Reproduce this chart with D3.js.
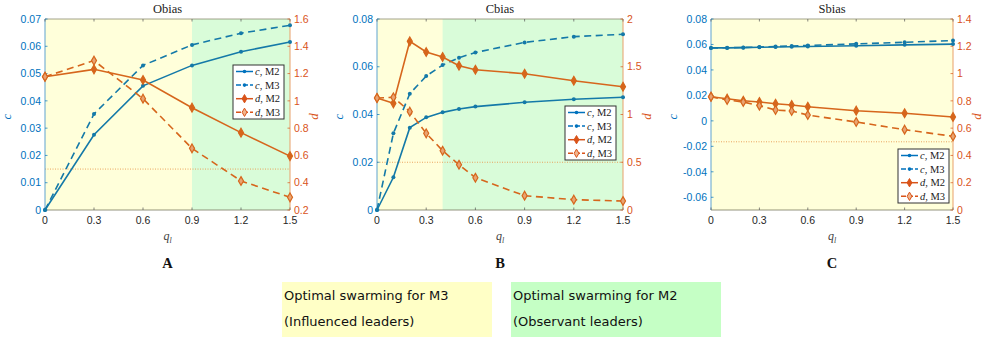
<!DOCTYPE html>
<html><head><meta charset="utf-8">
<script src="https://cdn.jsdelivr.net/npm/d3@7"></script>
<style>body{margin:0;background:#fff}svg{display:block}</style>
</head><body>
<svg id="chart" width="990" height="340"></svg>
<script>
// ---------- DATA ----------
const titles = ["Obias", "Cbias", "Sbias"];
const panelLetters = ["A", "B", "C"];
const seriesNames = ["c, M2", "c, M3", "d, M2", "d, M3"];

const qA = [0, 0.3, 0.6, 0.9, 1.2, 1.5];
const cM2_A = [0, 0.0276, 0.0455, 0.0530, 0.0580, 0.0616];
const cM3_A = [0, 0.0352, 0.0530, 0.0605, 0.0648, 0.0677];
const dM2_A = [1.177, 1.231, 1.153, 0.950, 0.767, 0.595];
const dM3_A = [1.177, 1.295, 1.016, 0.652, 0.413, 0.293];

const qB = [0, 0.1, 0.2, 0.3, 0.4, 0.5, 0.6, 0.9, 1.2, 1.5];
const cM2_B = [0, 0.0137, 0.0345, 0.0388, 0.0409, 0.0423, 0.0433, 0.0451, 0.0464, 0.0472];
const cM3_B = [0, 0.0321, 0.0487, 0.0561, 0.0607, 0.0638, 0.0660, 0.0702, 0.0726, 0.0736];
const dM2_B = [1.173, 1.117, 1.766, 1.654, 1.602, 1.511, 1.469, 1.427, 1.354, 1.291];
const dM3_B = [1.173, 1.180, 1.030, 0.803, 0.621, 0.474, 0.338, 0.150, 0.108, 0.094];

const qC = [0, 0.1, 0.2, 0.3, 0.4, 0.5, 0.6, 0.9, 1.2, 1.5];
const cM2_C = [0.0573, 0.0573, 0.0575, 0.0578, 0.0580, 0.0582, 0.0584, 0.0590, 0.0597, 0.0603];
const cM3_C = [0.0573, 0.0574, 0.0577, 0.0580, 0.0584, 0.0588, 0.0592, 0.0605, 0.0617, 0.0631];
const dM2_C = [0.830, 0.816, 0.801, 0.792, 0.779, 0.770, 0.757, 0.728, 0.709, 0.682];
const dM3_C = [0.830, 0.806, 0.792, 0.765, 0.733, 0.726, 0.696, 0.645, 0.589, 0.540];

const xTicks = [0, 0.3, 0.6, 0.9, 1.2, 1.5];
const cTicksA = [0, 0.01, 0.02, 0.03, 0.04, 0.05, 0.06, 0.07];
const dTicksA = [0.2, 0.4, 0.6, 0.8, 1, 1.2, 1.4, 1.6];
const cTicksB = [0, 0.02, 0.04, 0.06, 0.08];
const dTicksB = [0, 0.5, 1, 1.5, 2];
const cTicksC = [-0.06, -0.04, -0.02, 0, 0.02, 0.04, 0.06, 0.08];
const dTicksC = [0, 0.2, 0.4, 0.6, 0.8, 1, 1.2, 1.4];

const cDomains = [[0, 0.07], [0, 0.08], [-0.07, 0.08]];
const dDomains = [[0.2, 1.6], [0, 2], [0, 1.4]];
const greenStart = [0.9, 0.4, null];   // M2-optimal region starts here
const thresholdD = [0.5, 0.5, 0.5];    // dotted reference line (right axis)

const legendTexts = [["Optimal swarming for M3", "(Influenced leaders)"],
                     ["Optimal swarming for M2", "(Observant leaders)"]];

// ---------- LAYOUT ----------
const panels = [
  {x0: 45, x1: 290, q: qA, c: [cM2_A, cM3_A], d: [dM2_A, dM3_A], cT: cTicksA, dT: dTicksA, leg: [233, 65]},
  {x0: 377, x1: 623, q: qB, c: [cM2_B, cM3_B], d: [dM2_B, dM3_B], cT: cTicksB, dT: dTicksB, leg: [565, 106]},
  {x0: 711, x1: 953, q: qC, c: [cM2_C, cM3_C], d: [dM2_C, dM3_C], cT: cTicksC, dT: dTicksC, leg: [898, 149]}
];
const yTop = 19, yBot = 210;
const blue = "#0072BD", orange = "#D95319";
const cLine = "#1479A8", dLine = "#D6661C";
const yellowBg = "#FFFFDA", greenBg = "#D9FCD9";
const fmt = v => String(+v.toFixed(3));

const svg = d3.select("#chart");

panels.forEach((p, i) => {
  const g = svg.append("g");
  const x = d3.scaleLinear().domain([0, 1.5]).range([p.x0, p.x1]);
  const yc = d3.scaleLinear().domain(cDomains[i]).range([yBot, yTop]);
  const yd = d3.scaleLinear().domain(dDomains[i]).range([yBot, yTop]);

  // backgrounds
  g.append("rect").attr("x", p.x0).attr("y", yTop).attr("width", p.x1 - p.x0).attr("height", yBot - yTop).attr("fill", yellowBg);
  if (greenStart[i] !== null) {
    g.append("rect").attr("x", x(greenStart[i])).attr("y", yTop)
      .attr("width", x(1.5) - x(greenStart[i])).attr("height", yBot - yTop).attr("fill", greenBg);
  }
  // dotted threshold
  g.append("line").attr("x1", p.x0).attr("x2", p.x1).attr("y1", yd(thresholdD[i])).attr("y2", yd(thresholdD[i]))
    .attr("stroke", "#E89A50").attr("stroke-width", 0.9).attr("stroke-dasharray", "1,1.5");

  // frame
  g.append("line").attr("x1", p.x0).attr("x2", p.x1).attr("y1", yTop).attr("y2", yTop).attr("stroke", "#8a8a70").attr("stroke-width", 0.8);
  g.append("line").attr("x1", p.x0).attr("x2", p.x1).attr("y1", yBot).attr("y2", yBot).attr("stroke", "#7a7a60").attr("stroke-width", 0.8);
  g.append("line").attr("x1", p.x0).attr("x2", p.x0).attr("y1", yTop).attr("y2", yBot).attr("stroke", "#5FA3CF").attr("stroke-width", 1);
  g.append("line").attr("x1", p.x1).attr("x2", p.x1).attr("y1", yTop).attr("y2", yBot).attr("stroke", "#E8A06A").attr("stroke-width", 1);

  // x ticks
  xTicks.forEach(t => {
    g.append("line").attr("x1", x(t)).attr("x2", x(t)).attr("y1", yBot).attr("y2", yBot - 2.5).attr("stroke", "#555").attr("stroke-width", 0.7);
    g.append("line").attr("x1", x(t)).attr("x2", x(t)).attr("y1", yTop).attr("y2", yTop + 2.5).attr("stroke", "#555").attr("stroke-width", 0.7);
    g.append("text").attr("x", x(t)).attr("y", 224).attr("text-anchor", "middle")
      .attr("font-family", "Liberation Sans, Arial, sans-serif").attr("font-size", 10.5).attr("fill", "#262626").text(fmt(t));
  });
  // left ticks
  p.cT.forEach(t => {
    g.append("line").attr("x1", p.x0).attr("x2", p.x0 + 2.5).attr("y1", yc(t)).attr("y2", yc(t)).attr("stroke", blue).attr("stroke-width", 0.7);
    g.append("text").attr("x", p.x0 - 4).attr("y", yc(t) + 3.7).attr("text-anchor", "end")
      .attr("font-family", "Liberation Sans, Arial, sans-serif").attr("font-size", 10.5).attr("fill", blue).text(fmt(t));
  });
  // right ticks
  p.dT.forEach(t => {
    g.append("line").attr("x1", p.x1 - 2.5).attr("x2", p.x1).attr("y1", yd(t)).attr("y2", yd(t)).attr("stroke", orange).attr("stroke-width", 0.7);
    g.append("text").attr("x", p.x1 + 4).attr("y", yd(t) + 3.7).attr("text-anchor", "start")
      .attr("font-family", "Liberation Sans, Arial, sans-serif").attr("font-size", 10.5).attr("fill", orange).text(fmt(t));
  });

  // title
  g.append("text").attr("x", (p.x0 + p.x1) / 2).attr("y", 13).attr("text-anchor", "middle")
    .attr("font-family", "Liberation Serif, serif").attr("font-size", 12.5).attr("fill", "#222").text(titles[i]);
  // axis labels
  g.append("text").attr("transform", `translate(${p.x0 - 34},${(yTop + yBot) / 2 + 2}) rotate(-90)`).attr("text-anchor", "middle")
    .attr("font-family", "Liberation Serif, serif").attr("font-style", "italic").attr("font-size", 13).attr("fill", blue).text("c");
  g.append("text").attr("transform", `translate(${p.x1 + 28},${(yTop + yBot) / 2 + 2}) rotate(-90)`).attr("text-anchor", "middle")
    .attr("font-family", "Liberation Serif, serif").attr("font-style", "italic").attr("font-size", 13).attr("fill", orange).text("d");
  const xl = g.append("text").attr("x", (p.x0 + p.x1) / 2).attr("y", 240).attr("text-anchor", "middle")
    .attr("font-family", "Liberation Serif, serif").attr("font-style", "italic").attr("fill", "#444");
  xl.append("tspan").attr("font-size", 12).text("q");
  xl.append("tspan").attr("font-size", 8).attr("dy", 2.5).text("l");
  g.append("text").attr("x", (p.x0 + p.x1) / 2).attr("y", 268).attr("text-anchor", "middle")
    .attr("font-family", "Liberation Serif, serif").attr("font-weight", "bold").attr("font-size", 14.5).attr("fill", "#111").text(panelLetters[i]);

  // lines
  const drawSeries = (vals, yScale, color, dashed, marker) => {
    const pts = p.q.map((q, k) => [x(q), yScale(vals[k])]);
    g.append("path").attr("d", d3.line()(pts)).attr("fill", "none").attr("stroke", color)
      .attr("stroke-width", 1.6).attr("stroke-dasharray", dashed ? "7,4.5" : null);
    pts.forEach(pt => {
      if (marker === "dot") {
        g.append("circle").attr("cx", pt[0]).attr("cy", pt[1]).attr("r", 2).attr("fill", color);
      } else {
        g.append("path").attr("d", d3.symbol(d3.symbolDiamond, 22)()).attr("transform", `translate(${pt[0]},${pt[1]})`)
          .attr("fill", marker === "open" ? "#E9A472" : color).attr("stroke", color).attr("stroke-width", 1.2);
      }
    });
  };
  drawSeries(p.c[0], yc, cLine, false, "dot");
  drawSeries(p.c[1], yc, cLine, true, "dot");
  drawSeries(p.d[0], yd, dLine, false, "filled");
  drawSeries(p.d[1], yd, dLine, true, "open");

  // legend
  const [lx, ly] = p.leg;
  const lg = g.append("g");
  lg.append("rect").attr("x", lx).attr("y", ly).attr("width", 51).attr("height", 54)
    .attr("fill", "#fff").attr("stroke", "#333").attr("stroke-width", 1);
  seriesNames.forEach((name, k) => {
    const yy = ly + 6.5 + k * 13.6;
    const col = k < 2 ? blue : orange;
    lg.append("line").attr("x1", lx + 3).attr("x2", lx + 20).attr("y1", yy).attr("y2", yy)
      .attr("stroke", col).attr("stroke-width", 1.5).attr("stroke-dasharray", k % 2 ? "5,2" : null);
    if (k < 2) lg.append("circle").attr("cx", lx + 11.5).attr("cy", yy).attr("r", 1.8).attr("fill", col);
    else lg.append("path").attr("d", d3.symbol(d3.symbolDiamond, 20)()).attr("transform", `translate(${lx + 11.5},${yy})`)
      .attr("fill", k === 3 ? "#F0B58E" : col).attr("stroke", col);
    const [v, m] = name.split(", ");
    const t = lg.append("text").attr("x", lx + 22).attr("y", yy + 3.5).attr("font-family", "Liberation Serif, serif")
      .attr("font-size", 10.5).attr("fill", "#222");
    t.append("tspan").attr("font-style", "italic").text(v);
    t.append("tspan").text(", " + m);
  });
});

// bottom legend boxes
const boxes = [{x: 282, fill: "#FFFFC6"}, {x: 511, fill: "#C5FFC5"}];
boxes.forEach((b, i) => {
  svg.append("rect").attr("x", b.x).attr("y", 282).attr("width", 210).attr("height", 55).attr("fill", b.fill);
  legendTexts[i].forEach((s, k) => {
    svg.append("text").attr("x", b.x + 2).attr("y", 300 + k * 26).attr("font-family", "DejaVu Sans, sans-serif")
      .attr("font-size", 13).attr("fill", "#111").text(s);
  });
});
</script>
</body></html>
